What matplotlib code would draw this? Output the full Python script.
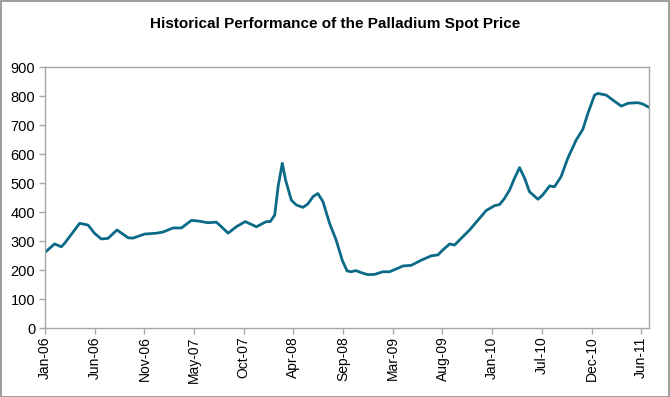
import numpy as np
import pandas as pd
import matplotlib
matplotlib.use('Agg')
import matplotlib.pyplot as plt
from matplotlib.patches import Rectangle

plt.rcParams['font.family'] = ['Liberation Sans', 'DejaVu Sans']

# Palladium spot price (USD/oz)
dates = ['2006-01-01', '2006-02-02', '2006-02-24', '2006-03-07', '2006-04-26',
         '2006-05-24', '2006-06-15', '2006-07-07', '2006-07-29', '2006-08-28',
         '2006-10-04', '2006-10-20', '2006-11-28', '2007-01-06', '2007-01-28',
         '2007-03-02', '2007-03-30', '2007-05-02', '2007-05-24', '2007-06-26',
         '2007-07-24', '2007-08-10', '2007-09-01', '2007-09-28', '2007-10-28',
         '2007-12-04', '2008-01-06', '2008-01-19', '2008-02-03', '2008-02-14',
         '2008-02-28', '2008-03-10', '2008-03-29', '2008-04-15', '2008-05-07',
         '2008-05-23', '2008-06-09', '2008-06-25', '2008-07-12', '2008-08-03',
         '2008-08-25', '2008-09-14', '2008-09-30', '2008-10-14', '2008-10-29',
         '2008-11-16', '2008-12-08', '2008-12-31', '2009-01-27', '2009-02-18',
         '2009-03-18', '2009-04-04', '2009-05-01', '2009-06-04', '2009-07-07',
         '2009-07-29', '2009-08-14', '2009-09-06', '2009-09-22', '2009-10-14',
         '2009-11-11', '2009-12-09', '2010-01-05', '2010-02-02', '2010-02-19',
         '2010-03-07', '2010-03-24', '2010-04-09', '2010-04-26', '2010-05-13',
         '2010-05-29', '2010-06-26', '2010-07-12', '2010-08-04', '2010-08-20',
         '2010-09-11', '2010-10-03', '2010-10-31', '2010-11-22', '2010-12-09',
         '2010-12-31', '2011-01-11', '2011-02-08', '2011-03-02', '2011-03-30',
         '2011-04-21', '2011-05-24', '2011-06-10', '2011-06-30']
prices = [261, 290, 280, 292, 361, 355, 326, 307, 309, 338,
          311, 310, 324, 327, 331, 345, 345, 371, 369, 363,
          365, 349, 327, 349, 367, 349, 367, 367, 390, 487,
          568, 510, 441, 424, 416, 428, 453, 464, 436, 361,
          303, 234, 197, 194, 198, 191, 184, 185, 194, 194,
          206, 214, 216, 234, 249, 252, 269, 290, 286, 309,
          338, 372, 405, 422, 426, 447, 476, 516, 553, 516,
          470, 444, 459, 490, 487, 522, 585, 648, 685, 740,
          803, 809, 803, 786, 765, 775, 777, 772, 761]

tick_labels = ['Jan-06', 'Jun-06', 'Nov-06', 'May-07', 'Oct-07', 'Apr-08',
               'Sep-08', 'Mar-09', 'Aug-09', 'Jan-10', 'Jul-10', 'Dec-10',
               'Jun-11']
yticks = [0, 100, 200, 300, 400, 500, 600, 700, 800, 900]

x = pd.to_datetime(dates)
start = x[0]

fig = plt.figure(figsize=(6.7, 3.97), dpi=100)
ax = fig.add_axes([0.0672, 0.1738, 0.9015, 0.6574])

ax.plot(x, prices, color='#0b6a88', linewidth=2.0, solid_joinstyle='round',
        solid_capstyle='round')

# category-style ticks, evenly spaced (every 165 days)
tick_pos = [start + pd.Timedelta(days=165 * i) for i in range(len(tick_labels))]
ax.set_xticks(tick_pos)
ax.set_xticklabels(tick_labels, rotation=90, fontsize=10)
ax.set_xlim(start, pd.Timestamp('2011-06-30'))

ax.set_ylim(0, 900)
ax.set_yticks(yticks)
ax.set_yticklabels([str(v) for v in yticks], fontsize=10.5)

for s in ax.spines.values():
    s.set_color('#a6a6a6')
    s.set_linewidth(1.0)
ax.tick_params(axis='both', colors='#a6a6a6', length=4, width=1,
               direction='out', labelcolor='black')
ax.tick_params(axis='x', pad=2)
ax.tick_params(axis='y', pad=3)

fig.text(0.5, 0.94, 'Historical Performance of the Palladium Spot Price',
         ha='center', va='center', fontsize=11, fontweight='bold')

# chart border
fig.patches.append(Rectangle((0.001, 0.001), 0.997, 0.997, transform=fig.transFigure,
                             fill=False, edgecolor='#8c8c8c', linewidth=1.2))

fig.savefig('out.png', dpi=100)
